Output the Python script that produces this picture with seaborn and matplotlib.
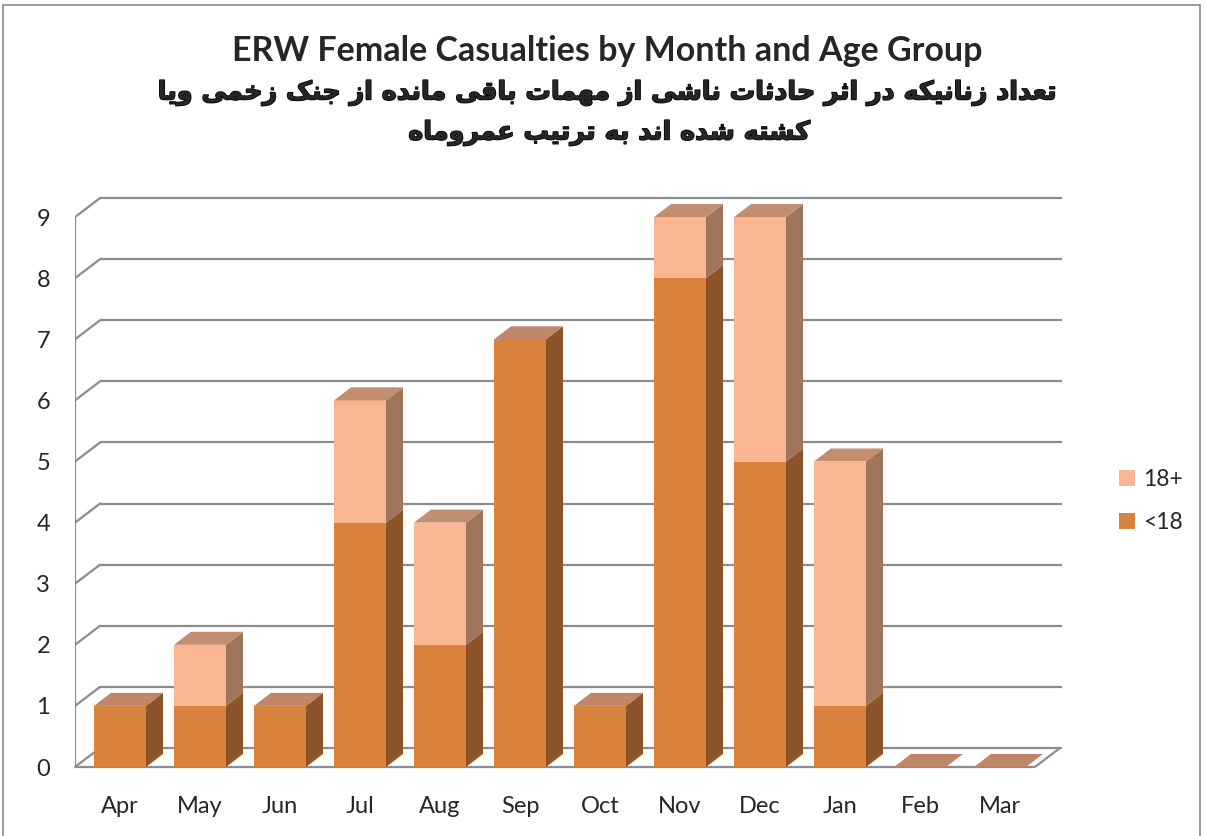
import matplotlib
matplotlib.use("Agg")
import matplotlib.pyplot as plt
from matplotlib.patches import Polygon, Patch, Rectangle
from matplotlib.font_manager import FontProperties, findfont
from matplotlib import ft2font
import matplotlib.patheffects as pe
import seaborn as sns
import pandas as pd

# ---------------- data ----------------
months = ['Apr', 'May', 'Jun', 'Jul', 'Aug', 'Sep', 'Oct', 'Nov', 'Dec', 'Jan', 'Feb', 'Mar']
under18 = [1, 1, 1, 4, 2, 7, 1, 8, 5, 1, 0, 0]
over18 = [0, 1, 0, 2, 2, 0, 0, 1, 4, 4, 0, 0]
series_labels = ['18+', '<18']
yticks = list(range(0, 10))
title_en = 'ERW Female Casualties by Month and Age Group'
title_fa1 = 'تعداد زنانیکه در اثر حادثات ناشی از مهمات باقی مانده از جنک زخمی ویا'
title_fa2 = 'کشته شده اند به ترتیب عمروماه'

# ---------------- colours ----------------
C_U_FRONT, C_U_SIDE, C_U_TOP = '#D9823E', '#8C5428', '#BE876A'
C_O_FRONT, C_O_SIDE, C_O_TOP = '#FAB690', '#A0755B', '#C38D70'
GRID = '#8C8C8C'

sns.set_style('white')
plt.rcParams['font.family'] = ['Lato', 'DejaVu Sans']

# ---------------- simple Arabic/Persian shaping ----------------
fa_path = findfont(FontProperties(family='DejaVu Sans', weight='bold'))
cmap = ft2font.FT2Font(fa_path).get_charmap()

def rng(base, n):
    return [base + i for i in range(n)]

FORMS = {
    '\u0627': rng(0xFE8D, 2), '\u0628': rng(0xFE8F, 4), '\u062A': rng(0xFE95, 4),
    '\u062B': rng(0xFE99, 4), '\u062C': rng(0xFE9D, 4), '\u062D': rng(0xFEA1, 4),
    '\u062E': rng(0xFEA5, 4), '\u062F': rng(0xFEA9, 2), '\u0630': rng(0xFEAB, 2),
    '\u0631': rng(0xFEAD, 2), '\u0632': rng(0xFEAF, 2), '\u0633': rng(0xFEB1, 4),
    '\u0634': rng(0xFEB5, 4), '\u0639': rng(0xFEC9, 4), '\u0641': rng(0xFED1, 4),
    '\u0642': rng(0xFED5, 4), '\u0643': rng(0xFED9, 4), '\u0644': rng(0xFEDD, 4),
    '\u0645': rng(0xFEE1, 4), '\u0646': rng(0xFEE5, 4), '\u0647': rng(0xFEE9, 4),
    '\u0648': rng(0xFEED, 2), '\u064A': rng(0xFEF1, 4),
}
keheh = rng(0xFB8E, 4)
FORMS['\u06A9'] = keheh if all(c in cmap for c in keheh) else rng(0xFED9, 4)
fyeh = rng(0xFBFC, 4)
FORMS['\u06CC'] = fyeh if all(c in cmap for c in fyeh) else [0xFEEF, 0xFEF0, 0xFEF3, 0xFEF4]

def shape(text):
    out = []
    for i, ch in enumerate(text):
        f = FORMS.get(ch)
        if f is None:
            out.append(ch)
            continue
        prev = FORMS.get(text[i - 1]) if i > 0 else None
        nxt = FORMS.get(text[i + 1]) if i + 1 < len(text) else None
        jp = prev is not None and len(prev) == 4
        jn = len(f) == 4 and nxt is not None
        idx = 3 if (jp and jn) else (1 if jp else (2 if jn else 0))
        code = f[idx]
        out.append(chr(code) if code in cmap else ch)
    return ''.join(reversed(out))

# ---------------- figure ----------------
W, H = 1205, 836
fig = plt.figure(figsize=(W / 100, H / 100), dpi=100)
fig.patch.set_facecolor('white')
fig.patches.append(Rectangle((3 / W, -0.02), 1197 / W, 1 - 5 / H + 0.02, transform=fig.transFigure,
                             fill=False, edgecolor='#8A8A8A', linewidth=1.2))

XL, XR = -0.5625, 11.78
YT = 9.4
ax = fig.add_axes([75 / W, 69 / H, (XR - XL) * 80 / W, YT * 61.1 / H])
ax.set_facecolor('none')

df = pd.DataFrame({'month': months, 'u': under18, 'o': over18})
df['total'] = df['u'] + df['o']
BW = 0.65
sns.barplot(data=df, x='month', y='total', order=months, color=C_O_FRONT, saturation=1,
            width=BW, linewidth=0, ax=ax, zorder=3)
sns.barplot(data=df, x='month', y='u', order=months, color=C_U_FRONT, saturation=1,
            width=BW, linewidth=0, ax=ax, zorder=3)

ax.set_xlim(XL, XR)
ax.set_ylim(0, YT)
for s in ax.spines.values():
    s.set_visible(False)

# walls / gridlines
WX, WY = 0.3125, 0.311
XF_R = 11.4375
for v in yticks:
    ax.plot([XL + WX, XR], [v + WY, v + WY], color=GRID, lw=1.6, zorder=1, solid_capstyle='butt')
    ax.plot([XL, XL + WX], [v, v + WY], color=GRID, lw=1.6, zorder=1)
ax.plot([XL, XL], [0, max(yticks)], color=GRID, lw=1.6, zorder=1)
ax.plot([XL, XF_R], [0, 0], color=GRID, lw=1.6, zorder=1, clip_on=False)
ax.plot([XF_R, XF_R + WX], [0, WY], color=GRID, lw=1.6, zorder=1)

# 3D faces of bars
BX, BY = 0.2125, 0.213
for i in range(len(months)):
    x0, x1 = i - BW / 2, i + BW / 2
    segs = [(0, under18[i], C_U_SIDE), (under18[i], under18[i] + over18[i], C_O_SIDE)]
    for y0, y1, col in segs:
        if y1 > y0:
            ax.add_patch(Polygon([(x1, y0), (x1 + BX, y0 + BY), (x1 + BX, y1 + BY), (x1, y1)],
                                 closed=True, facecolor=col, edgecolor='none', zorder=3))
    top = under18[i] + over18[i]
    tcol = C_O_TOP if over18[i] > 0 else C_U_TOP
    ax.add_patch(Polygon([(x0, top), (x1, top), (x1 + BX, top + BY), (x0 + BX, top + BY)],
                         closed=True, facecolor=tcol, edgecolor='none', zorder=3))

ax.set_yticks(yticks)
ax.set_yticklabels([str(v) for v in yticks])
ax.set_xlabel('')
ax.set_ylabel('')
ax.tick_params(axis='y', length=0, pad=18, labelsize=17)
ax.tick_params(axis='x', length=0, pad=21, labelsize=17)

# legend
handles = [Patch(facecolor=C_O_FRONT, edgecolor='none'), Patch(facecolor=C_U_FRONT, edgecolor='none')]
fig.legend(handles, series_labels, loc='center left', bbox_to_anchor=(1098 / W, 1 - 501 / H),
           frameon=False, fontsize=16.5, handlelength=0.7, handleheight=0.7, handletextpad=0.35,
           labelspacing=1.0)

# titles
fig.text(607 / W, 1 - 51 / H, title_en, ha='center', va='center', fontsize=24.5, fontweight='bold')
heavy = [pe.withStroke(linewidth=1.1, foreground='black')]
fig.text(607 / W, 1 - 93 / H, shape(title_fa1), ha='center', va='center', fontsize=18.3,
         fontweight='bold', family='DejaVu Sans', path_effects=heavy)
fig.text(609 / W, 1 - 133 / H, shape(title_fa2), ha='center', va='center', fontsize=18.3,
         fontweight='bold', family='DejaVu Sans', path_effects=heavy)

fig.savefig('out.png', dpi=100)
